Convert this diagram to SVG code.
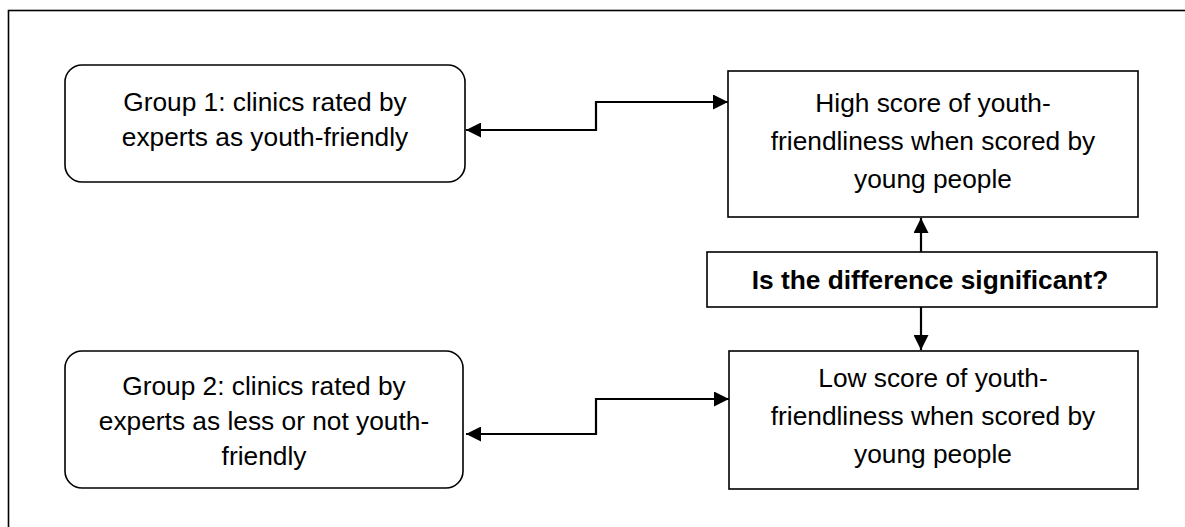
<svg xmlns="http://www.w3.org/2000/svg" width="1185" height="527" viewBox="0 0 1185 527">
<style>
.box{fill:#fff;stroke:#000;stroke-width:1.6}
.t{font-family:"Liberation Sans",Arial,sans-serif;font-size:26.3px;fill:#000;text-anchor:middle}
.b{font-family:"Liberation Sans",Arial,sans-serif;font-size:26.3px;font-weight:bold;fill:#000;text-anchor:middle}
.c{fill:none;stroke:#000;stroke-width:2.2}
</style>
<defs>
<marker id="ah" markerUnits="userSpaceOnUse" markerWidth="15" markerHeight="15" refX="15" refY="7.5" orient="auto-start-reverse" viewBox="0 0 15 15">
<path d="M0,0 L15,7.5 L0,15 z" fill="#000"/>
</marker>
</defs>
<rect x="8.5" y="10.5" width="1200" height="600" fill="#fff" stroke="#000" stroke-width="1.6"/>
<g id="group1">
<rect class="box" x="65" y="65" width="400" height="117" rx="17"/>
<text class="t" x="265" y="111">Group 1: clinics rated by</text>
<text class="t" x="265" y="146">experts as youth-friendly</text>
</g>
<g id="high">
<rect class="box" x="728" y="71" width="410" height="146"/>
<text class="t" x="933" y="112">High score of youth-</text>
<text class="t" x="933" y="150">friendliness when scored by</text>
<text class="t" x="933" y="188">young people</text>
</g>
<g id="diff">
<rect class="box" x="707" y="252" width="450" height="55" stroke-width="2"/>
<text class="b" x="930" y="289">Is the difference significant?</text>
</g>
<g id="low">
<rect class="box" x="729" y="351" width="409" height="138"/>
<text class="t" x="933" y="387">Low score of youth-</text>
<text class="t" x="933" y="425">friendliness when scored by</text>
<text class="t" x="933" y="463">young people</text>
</g>
<g id="group2">
<rect class="box" x="65" y="351" width="398" height="137" rx="17"/>
<text class="t" x="264" y="395">Group 2: clinics rated by</text>
<text class="t" x="264" y="430">experts as less or not youth-</text>
<text class="t" x="264" y="465">friendly</text>
</g>
<g id="connectors">
<path class="c" d="M466,130 H596 V102 H728" marker-start="url(#ah)" marker-end="url(#ah)"/>
<path class="c" d="M466,434 H596 V399 H729" marker-start="url(#ah)" marker-end="url(#ah)"/>
<path class="c" d="M921,252 V218" marker-end="url(#ah)"/>
<path class="c" d="M921,307 V350" marker-end="url(#ah)"/>
</g>
</svg>
